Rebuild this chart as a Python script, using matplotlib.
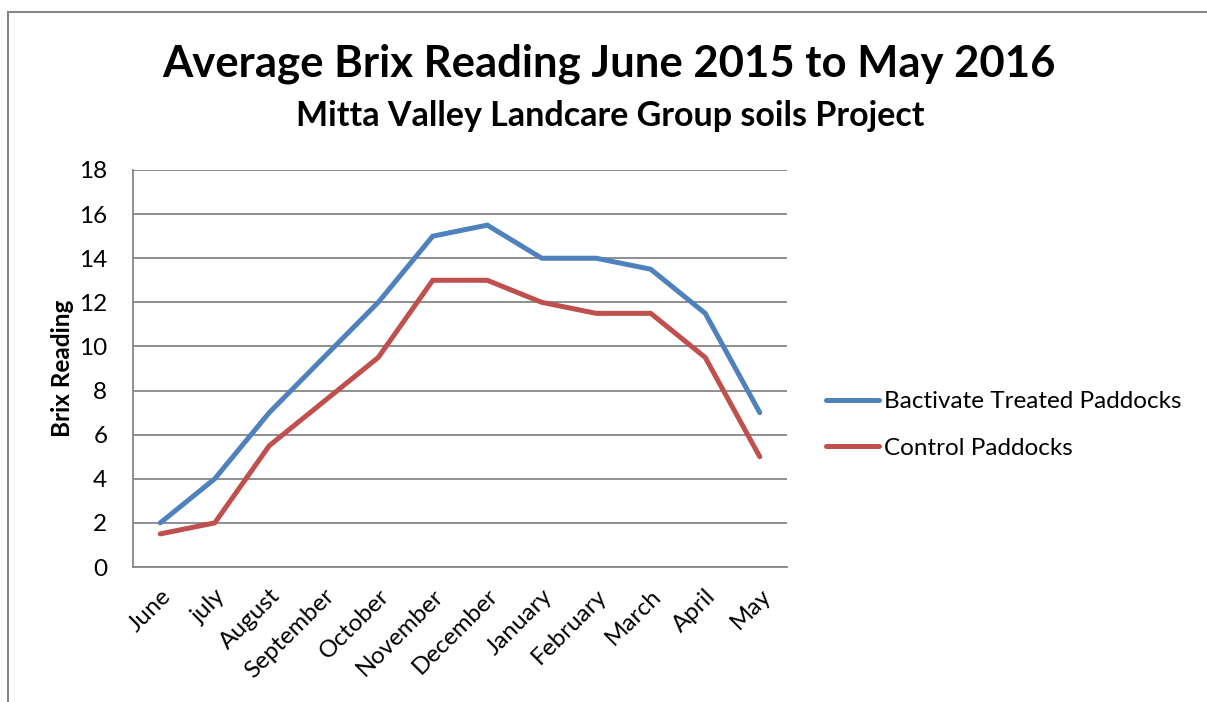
"""Average Brix reading line chart, June 2015 to May 2016."""

import matplotlib.pyplot as plt
from matplotlib.lines import Line2D

plt.rcParams["font.family"] = ["Lato", "DejaVu Sans"]

MONTHS = ["June", "july", "August", "September", "October", "November",
          "December", "January", "February", "March", "April", "May"]
BACTIVATE = [2, 4, 7, 9.5, 12, 15, 15.5, 14, 14, 13.5, 11.5, 7]
CONTROL = [1.5, 2, 5.5, 7.5, 9.5, 13, 13, 12, 11.5, 11.5, 9.5, 5]
Y_TICKS = list(range(0, 19, 2))

SERIES = [
    ("Bactivate Treated Paddocks", BACTIVATE, "#4F81BD"),
    ("Control Paddocks", CONTROL, "#C0504D"),
]

W, H = 1207, 702
fig = plt.figure(figsize=(W / 100, H / 100), dpi=100)

# outer chart border (runs off the right and bottom edges)
border = "#868686"
fig.add_artist(Line2D([8 / W, 8 / W], [0, 1 - 12 / H], transform=fig.transFigure,
                      color=border, lw=1.5))
fig.add_artist(Line2D([8 / W, 1], [1 - 12 / H, 1 - 12 / H], transform=fig.transFigure,
                      color=border, lw=1.5))

left, right, top, bottom = 133, 787, 170, 567
ax = fig.add_axes([left / W, 1 - bottom / H, (right - left) / W, (bottom - top) / H])

x = list(range(len(MONTHS)))
handles = []
for name, vals, color in SERIES:
    (ln,) = ax.plot(x, vals, color=color, lw=3.6, solid_capstyle="round",
                    solid_joinstyle="miter", label=name, zorder=3)
    handles.append(ln)

ax.set_xlim(-0.5, len(MONTHS) - 0.5)
ax.set_ylim(0, 18)
ax.set_yticks(Y_TICKS)
ax.set_yticklabels([str(t) for t in Y_TICKS], fontsize=17.5)
ax.set_xticks(x)
ax.set_xticklabels(MONTHS, rotation=45, ha="right", rotation_mode="anchor", fontsize=17.5)
ax.tick_params(axis="x", length=0, pad=13)
ax.tick_params(axis="y", length=0, pad=18.5)

ax.grid(axis="y", color="#868686", lw=1.3)
ax.set_axisbelow(True)
for side in ["top", "right"]:
    ax.spines[side].set_visible(False)
for side in ["left", "bottom"]:
    ax.spines[side].set_color("#868686")
    ax.spines[side].set_linewidth(1.3)

fig.text(62 / W, 1 - 368 / H, "Brix Reading", rotation=90, ha="center", va="center",
         fontsize=17.5, fontweight="bold")

fig.text(609 / W, 1 - 64 / H, "Average Brix Reading June 2015 to May 2016",
         ha="center", va="center", fontsize=31.4, fontweight="bold")
fig.text(610 / W, 1 - 116 / H, "Mitta Valley Landcare Group soils Project",
         ha="center", va="center", fontsize=24.5, fontweight="bold")

fig.legend(handles=handles, loc="center left", bbox_to_anchor=(826 / W, 1 - 425 / H),
           frameon=False, fontsize=17.5, handlelength=2.2, handletextpad=0.2,
           labelspacing=1.05, borderaxespad=0, borderpad=0)

fig.savefig("out.png", dpi=100)
